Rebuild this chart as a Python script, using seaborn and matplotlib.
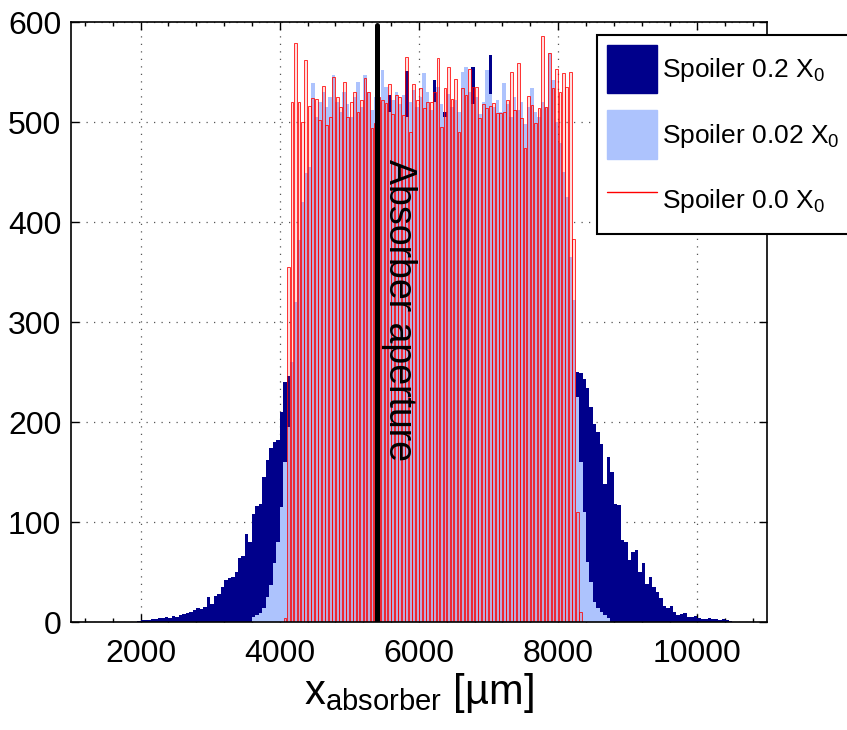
import matplotlib
matplotlib.use("Agg")
import matplotlib.pyplot as plt
import numpy as np
import pandas as pd
import seaborn as sns
from matplotlib.lines import Line2D
from matplotlib.patches import Patch
from matplotlib.ticker import MultipleLocator

# bin width of the histograms (um); each series is listed from its first filled bin
BIN_WIDTH = 50

navy_start = 1950
navy_counts = [
    # left tail 1950 .. 4150
    1, 2, 2, 2, 3, 3, 4, 4, 5, 4, 6, 5, 7, 8, 9, 10, 12, 14, 13, 15,
    25, 18, 26, 28, 35, 42, 44, 45, 50, 64, 66, 88, 80, 108, 116, 118, 145, 162, 174, 180,
    182, 210, 240, 246, 250,
    # plateau 4200 .. 8200
    290, 340, 380, 420, 445, 470, 480, 495, 490, 500, 495, 505, 490, 498, 510, 495, 500, 505, 495, 500,
    510, 498, 505, 490, 500, 508, 495, 527, 520, 500, 505, 498, 551, 500, 495, 510, 500, 505, 495, 500,
    542, 505, 498, 510, 500, 495, 505, 500, 510, 498, 505, 555, 500, 495, 505, 500, 567, 505, 498, 500,
    510, 495, 500, 505, 498, 500, 495, 505, 500, 498, 495, 500, 490, 495, 485, 480, 465, 440, 400, 340,
    290,
    # right tail 8250 .. 10450
    250, 249, 243, 234, 215, 198, 190, 178, 138, 165, 150, 118, 117, 82, 80, 62, 70, 72, 50, 59,
    38, 45, 35, 30, 24, 16, 14, 16, 10, 7, 8, 9, 5, 5, 6, 4, 3, 3, 4, 3,
    3, 2, 3, 2, 1,
]

light_start = 3600
light_counts = [
    # rise 3600 .. 4400
    5, 7, 9, 14, 25, 37, 59, 80, 115, 160, 195, 260, 320, 382, 420, 449, 455,
    # plateau 4450 .. 7950
    539, 505, 520, 530, 515, 525, 547, 520, 510, 530, 518, 505, 525, 540, 515, 547, 530, 512, 525, 520,
    552, 535, 510, 522, 530, 518, 527, 505, 520, 532, 515, 525, 549, 530, 512, 520, 535, 518, 505, 528,
    515, 522, 510, 550, 555, 530, 518, 525, 508, 520, 552, 528, 515, 522, 510, 539, 518, 505, 525, 512,
    520, 498, 515, 534, 510, 505, 520, 515, 569, 542, 500,
    # fall 8000 .. 8700
    479, 450, 425, 365, 322, 225, 160, 110, 60, 40, 20, 14, 10, 7, 4,
]

red_start = 4050
red_counts = [
    4, 355, 520, 579, 520, 500, 562, 516, 524, 523, 502, 536, 497, 505, 545, 525, 515, 540, 505, 520,
    530, 510,
    522, 544, 530, 494, 499, 525, 522, 519, 538, 508, 527, 525, 507, 565, 490, 538, 522, 534, 514, 520,
    520, 530, 564, 495, 534, 555, 523, 543, 490, 534, 527, 553, 535, 535, 504, 518, 514, 516, 519, 509,
    509, 510, 522, 550, 512, 559, 504, 474, 526, 517, 499, 514, 586, 515, 569, 534, 553, 530, 549, 535,
    550,
    383, 110, 10,
]

aperture_x = 5400
series_labels = ["Spoiler 0.2 X$_0$", "Spoiler 0.02 X$_0$", "Spoiler 0.0 X$_0$"]
xticks = [2000, 4000, 6000, 8000, 10000]
yticks = [0, 100, 200, 300, 400, 500, 600]

NAVY = "#00008b"
LIGHT = "#adc3fd"
RED = "#ff0000"


def _series(start, counts):
    edges = start + BIN_WIDTH * np.arange(len(counts) + 1)
    df = pd.DataFrame({"x": edges[:-1] + BIN_WIDTH / 2, "count": counts})
    return df, [float(e) for e in edges]


sns.set_theme(style="ticks")
plt.rcParams["font.family"] = ["Liberation Sans", "DejaVu Sans"]
plt.rcParams["mathtext.default"] = "regular"
for key in ["text.color", "axes.labelcolor", "xtick.color", "ytick.color"]:
    plt.rcParams[key] = "black"

fig = plt.figure(figsize=(8.47, 7.30), dpi=100)
ax = fig.add_axes([0.0838, 0.1479, 0.8217, 0.8219])

df, edges = _series(navy_start, navy_counts)
sns.histplot(data=df, x="x", weights="count", bins=edges, element="step", fill=True,
             color=NAVY, alpha=1, linewidth=0, ax=ax)
df, edges = _series(light_start, light_counts)
sns.histplot(data=df, x="x", weights="count", bins=edges, element="step", fill=True,
             color=LIGHT, alpha=1, linewidth=0, ax=ax)
df, edges = _series(red_start, red_counts)
sns.histplot(data=df, x="x", weights="count", bins=edges, element="bars", shrink=0.8,
             facecolor=(1, 0.2, 0.2, 0.16), edgecolor=(1, 0, 0, 0.8), linewidth=0.7, ax=ax)

ax.axvline(aperture_x, ymax=0.995, color="black", linewidth=3.6, zorder=5)
ax.text(5720, 312, "Absorber aperture", rotation=-90, ha="center", va="center",
        fontsize=27, color="black", zorder=6)

ax.set_xlim(1000, 11000)
ax.set_ylim(0, 600)
ax.set_xticks(xticks)
ax.set_yticks(yticks)
ax.xaxis.set_minor_locator(MultipleLocator(400))
ax.tick_params(which="both", direction="in", top=True, right=True, width=1, colors="black")
ax.tick_params(which="major", length=6, labelsize=23)
ax.tick_params(which="minor", length=3)
ax.tick_params(axis="x", pad=12)
ax.tick_params(axis="y", pad=7)
ax.grid(True, which="major", color="#555555", linestyle=(0, (1, 5)), linewidth=0.9)
ax.set_axisbelow(True)
for sp in ax.spines.values():
    sp.set_color("black")
    sp.set_linewidth(1.2)

ax.set_ylabel("")
ax.set_xlabel("x$_{absorber}$ [µm]", fontsize=30, labelpad=2)

handles = [
    Patch(facecolor=NAVY, edgecolor=NAVY),
    Patch(facecolor=LIGHT, edgecolor=LIGHT),
    Line2D([0], [0], color=RED, linewidth=1),
]
leg = ax.legend(handles, series_labels, loc="upper left",
                bbox_to_anchor=(597 / 847, 1 - 35 / 730), bbox_transform=fig.transFigure,
                fontsize=19, handlelength=1.9, handleheight=2.44, labelspacing=0.65,
                handletextpad=0.18, borderpad=0.38, borderaxespad=0,
                fancybox=False, framealpha=1)
leg.get_frame().set_edgecolor("black")
leg.get_frame().set_linewidth(1.5)

fig.savefig("out.png", dpi=100)
